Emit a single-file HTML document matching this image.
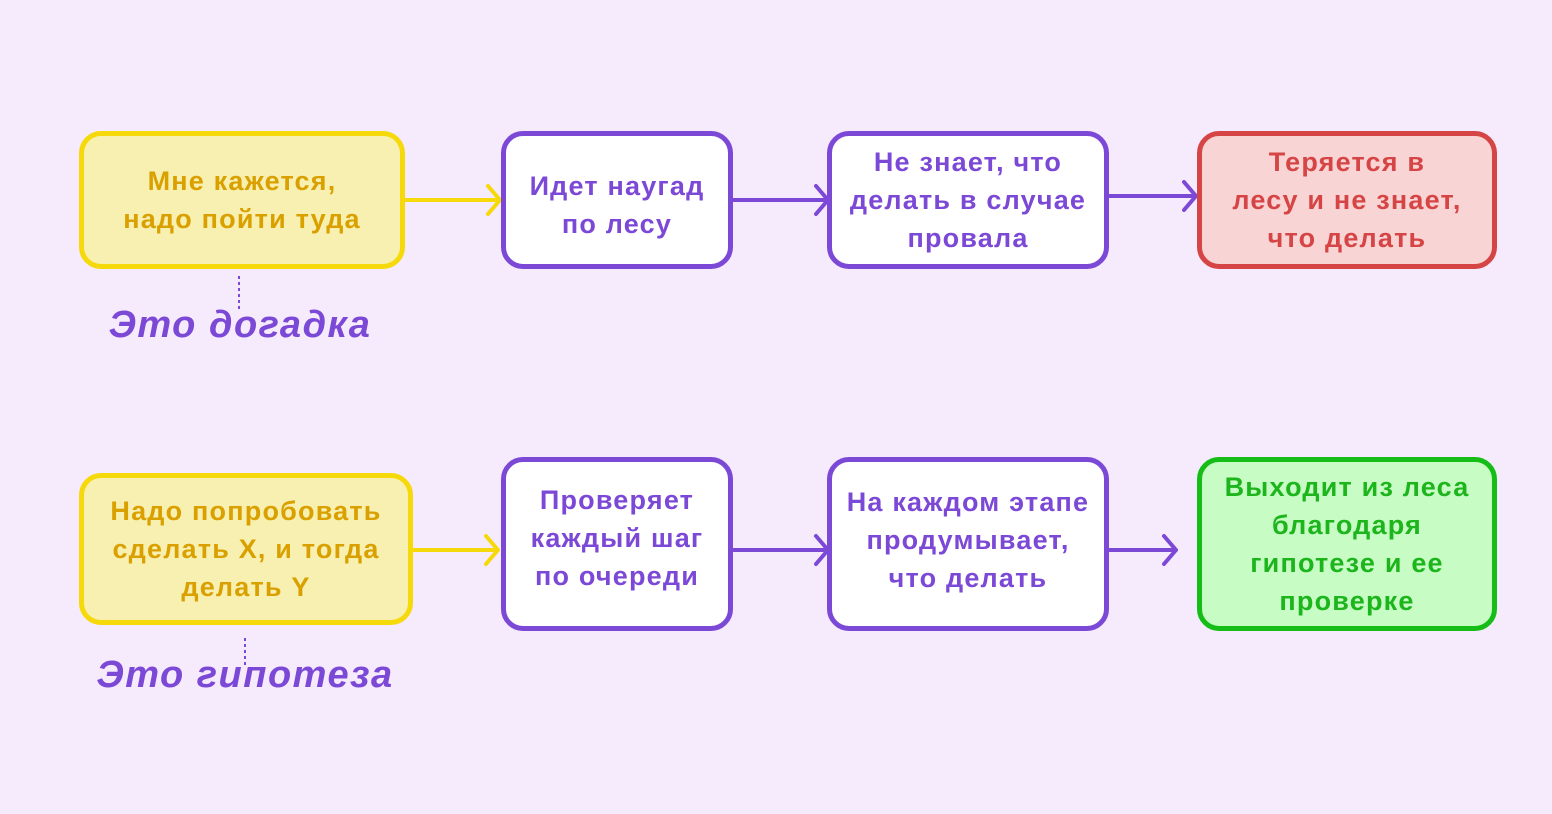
<!DOCTYPE html>
<html><head><meta charset="utf-8"><style>
body{margin:0;width:1552px;height:814px;background:#f5ebfd;position:relative;overflow:hidden;font-family:"Liberation Sans","DejaVu Sans",sans-serif}
.b{position:absolute;box-sizing:border-box;border:5px solid #7c48d6;border-radius:22px;background:#fff;display:flex;align-items:center;justify-content:center;text-align:center;font-weight:bold;font-size:27px;letter-spacing:1.2px;line-height:38px;color:#7c48d6;white-space:nowrap}
.y{border-color:#f5d90a;background:#f8f0b0;color:#d9a000}
.r{border-color:#d64545;background:#f9d4d4;color:#d64545}
.g{border-color:#16bd16;background:#c8fcc5;color:#1cb51c}
.l{position:absolute;font-weight:bold;font-style:italic;font-size:38px;letter-spacing:1.5px;color:#7c48d6;text-align:center;width:400px}
svg{position:absolute;left:0;top:0}
</style></head><body>
<svg width="1552" height="814" fill="none" stroke-width="4" stroke-linecap="round" stroke-linejoin="round">
<g stroke="#f5d90a"><path d="M404 200H500M488 186L500 200L488 214"/><path d="M412 550H498M486 536L498 550L486 564"/></g>
<g stroke="#7c48d6"><path d="M732 200H828M816 186L828 200L816 214"/><path d="M1108 196H1196M1184 182L1196 196L1184 210"/><path d="M732 550H828M816 536L828 550L816 564"/><path d="M1108 550H1176M1164 536L1176 550L1164 564"/></g>
<g stroke="#7c48d6" stroke-width="2" stroke-dasharray="3 3" stroke-linecap="butt"><path d="M239 276V312"/><path d="M245 638V668"/></g>
</svg>
<div class="b y" style="left:79px;top:131px;width:326px;height:138px">Мне кажется,<br>надо пойти туда</div>
<div class="b" style="left:501px;top:131px;width:232px;height:138px;padding-top:10px">Идет наугад<br>по лесу</div>
<div class="b" style="left:827px;top:131px;width:282px;height:138px">Не знает, что<br>делать в случае<br>провала</div>
<div class="b r" style="left:1197px;top:131px;width:300px;height:138px">Теряется в<br>лесу и не знает,<br>что делать</div>
<div class="b y" style="left:79px;top:473px;width:334px;height:152px">Надо попробовать<br>сделать X, и тогда<br>делать Y</div>
<div class="b" style="left:501px;top:457px;width:232px;height:174px;padding-bottom:12px">Проверяет<br>каждый шаг<br>по очереди</div>
<div class="b" style="left:827px;top:457px;width:282px;height:174px;padding-bottom:8px">На каждом этапе<br>продумывает,<br>что делать</div>
<div class="b g" style="left:1197px;top:457px;width:300px;height:174px">Выходит из леса<br>благодаря<br>гипотезе и ее<br>проверке</div>
<div class="l" style="left:40px;top:304px">Это догадка</div>
<div class="l" style="left:45px;top:654px">Это гипотеза</div>
</body></html>
